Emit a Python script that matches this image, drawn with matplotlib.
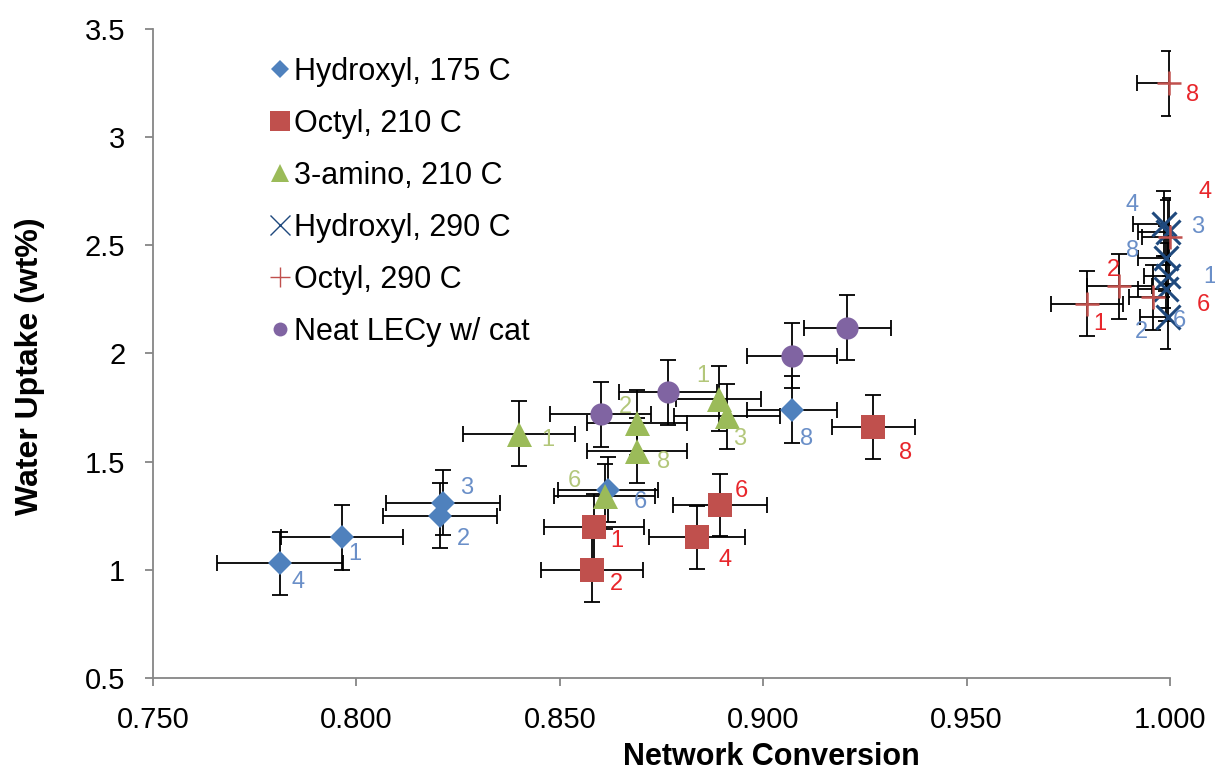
import matplotlib
matplotlib.use("Agg")
import matplotlib.pyplot as plt
from matplotlib.lines import Line2D
import numpy as np

plt.rcParams['font.family'] = ['Liberation Sans', 'DejaVu Sans']

# Hydroxyl, 175 C
hyd175_x = [0.7812, 0.7965, 0.8213, 0.8205, 0.8619, 0.9071]
hyd175_y = [1.03, 1.15, 1.31, 1.25, 1.37, 1.74]
hyd175_xerr = [0.0155, 0.015, 0.014, 0.014, 0.0123, 0.011]
hyd175_yerr = [0.145, 0.15, 0.15, 0.15, 0.15, 0.155]
hyd175_lab = ['4', '1', '3', '2', '6', '8']

# Octyl, 210 C
oct210_x = [0.8584, 0.8579, 0.8837, 0.8894, 0.9270]
oct210_y = [1.20, 1.00, 1.15, 1.30, 1.66]
oct210_xerr = [0.0124, 0.0125, 0.0118, 0.0115, 0.0102]
oct210_yerr = [0.15, 0.15, 0.145, 0.145, 0.148]
oct210_lab = ['1', '2', '4', '6', '8']

# 3-amino, 210 C
ami210_x = [0.840, 0.869, 0.869, 0.891, 0.889, 0.861]
ami210_y = [1.63, 1.68, 1.55, 1.71, 1.79, 1.34]
ami210_xerr = [0.0138, 0.0123, 0.0123, 0.013, 0.0105, 0.0125]
ami210_yerr = [0.15, 0.15, 0.15, 0.15, 0.15, 0.15]
ami210_lab = ['1', '2', '8', '3', '1', '6']

# Hydroxyl, 290 C
hyd290_x = [0.9985, 0.9995, 0.9990, 0.9995, 0.9990, 0.9995]
hyd290_y = [2.60, 2.56, 2.44, 2.36, 2.30, 2.17]
hyd290_xerr = [0.0075, 0.0075, 0.007, 0.006, 0.007, 0.007]
hyd290_yerr = [0.15, 0.15, 0.15, 0.15, 0.15, 0.15]
hyd290_lab = ['4', '3', '8', '1', '2', '6']

# Octyl, 290 C
oct290_x = [0.9998, 1.0000, 0.9875, 0.9958, 0.9796]
oct290_y = [3.25, 2.54, 2.31, 2.26, 2.23]
oct290_xerr = [0.0079, 0.007, 0.008, 0.006, 0.0088]
oct290_yerr = [0.15, 0.18, 0.15, 0.15, 0.15]
oct290_lab = ['8', '4', '2', '6', '1']

# Neat LECy w/ cat
neat_x = [0.8600, 0.8766, 0.9071, 0.9206]
neat_y = [1.72, 1.82, 1.99, 2.12]
neat_xerr = [0.0125, 0.012, 0.011, 0.0107]
neat_yerr = [0.15, 0.15, 0.15, 0.15]

# label offsets in pixels (layout only)
hyd175_off = [(18, -19), (13, -17), (24, 15), (24, -23), (32, -12), (14, -29)]
oct210_off = [(23, -14), (24, -14), (28, -23), (21, 14), (32, -26)]
ami210_off = [(29, -6), (-12, 16), (26, -11), (13, -23), (-16, 23), (-30, 15)]
hyd290_off = [(-32, 19), (30, 5), (-33, 7), (42, -1), (-25, -43), (11, -4)]
oct290_off = [(23, -12), (35, 45), (-6, 16), (50, -8), (13, -20)]

fig = plt.figure(figsize=(12.15, 7.73), dpi=100)
ax = fig.add_axes([0.126, 0.1229, 0.837, 0.8396])

series = [
    (hyd175_x, hyd175_y, hyd175_xerr, hyd175_yerr, 'D', 12.7, '#4F81BD', 0, 'Hydroxyl, 175 C'),
    (oct210_x, oct210_y, oct210_xerr, oct210_yerr, 's', 17, '#C0504D', 0, 'Octyl, 210 C'),
    (ami210_x, ami210_y, ami210_xerr, ami210_yerr, '^', 18, '#9BBB59', 0, '3-amino, 210 C'),
    (hyd290_x, hyd290_y, hyd290_xerr, hyd290_yerr, 'x', 17, '#1F497D', 2.2, 'Hydroxyl, 290 C'),
    (oct290_x, oct290_y, oct290_xerr, oct290_yerr, '+', 17, '#C0504D', 1.8, 'Octyl, 290 C'),
    (neat_x, neat_y, neat_xerr, neat_yerr, 'o', 16, '#8064A2', 0, 'Neat LECy w/ cat'),
]

handles = []
for x, y, xe, ye, mk, ms, col, mew, name in series:
    ax.errorbar(x, y, xerr=xe, yerr=ye, fmt='none', ecolor='black',
                elinewidth=1.3, capsize=6, capthick=1.3, zorder=2)
    h, = ax.plot(x, y, linestyle='none', marker=mk, markersize=ms,
                 color=col, markeredgewidth=mew, zorder=3, clip_on=False, label=name)
    handles.append(h)

label_sets = [
    (hyd175_x, hyd175_y, hyd175_lab, hyd175_off, '#6A8FC8'),
    (oct210_x, oct210_y, oct210_lab, oct210_off, '#E8262B'),
    (ami210_x, ami210_y, ami210_lab, ami210_off, '#B3C77A'),
    (hyd290_x, hyd290_y, hyd290_lab, hyd290_off, '#6A8FC8'),
    (oct290_x, oct290_y, oct290_lab, oct290_off, '#E8262B'),
]
for x, y, labs, offs, col in label_sets:
    for xi, yi, t, (dx, dy) in zip(x, y, labs, offs):
        ax.annotate(t, (xi, yi), xytext=(dx, dy), textcoords='offset pixels',
                    ha='center', va='center', fontsize=17, color=col,
                    annotation_clip=False, zorder=4)

ax.set_xlim(0.75, 1.0)
ax.set_ylim(0.5, 3.5)
ax.set_xticks(np.arange(0.75, 1.0001, 0.05))
ax.set_xticklabels(['0.750', '0.800', '0.850', '0.900', '0.950', '1.000'])
ax.set_yticks(np.arange(0.5, 3.5001, 0.5))
ax.set_yticklabels(['0.5', '1', '1.5', '2', '2.5', '3', '3.5'])

for s in ['top', 'right']:
    ax.spines[s].set_visible(False)
for s in ['left', 'bottom']:
    ax.spines[s].set_color('#868686')
    ax.spines[s].set_linewidth(1.3)
ax.tick_params(axis='both', direction='out', length=6, width=1.3, color='#868686',
               labelsize=21)
ax.tick_params(axis='y', pad=14)
ax.tick_params(axis='x', pad=14)

ax.set_xlabel('Network Conversion', fontsize=22, fontweight='bold', labelpad=4)
ax.xaxis.set_label_coords(0.608, -0.098)
ax.set_ylabel('Water Uptake (wt%)', fontsize=23, fontweight='bold')
ax.yaxis.set_label_coords(-0.106, 0.48)

leg_handles = []
leg_sizes = [9, 14, 13, 14, 14, 10]
for h, s in zip(handles, leg_sizes):
    leg_handles.append(Line2D([], [], linestyle='none', marker=h.get_marker(),
                              markersize=s, color=h.get_color(),
                              markeredgewidth=1 if h.get_marker() in ('x', '+') else 0))
ax.legend(leg_handles, [h.get_label() for h in handles], loc='upper left',
          bbox_to_anchor=(0.095, 0.99), frameon=False, fontsize=22,
          handlelength=0.6, handletextpad=0.15, labelspacing=0.72, borderaxespad=0.3)

fig.savefig('out.png', dpi=100)
